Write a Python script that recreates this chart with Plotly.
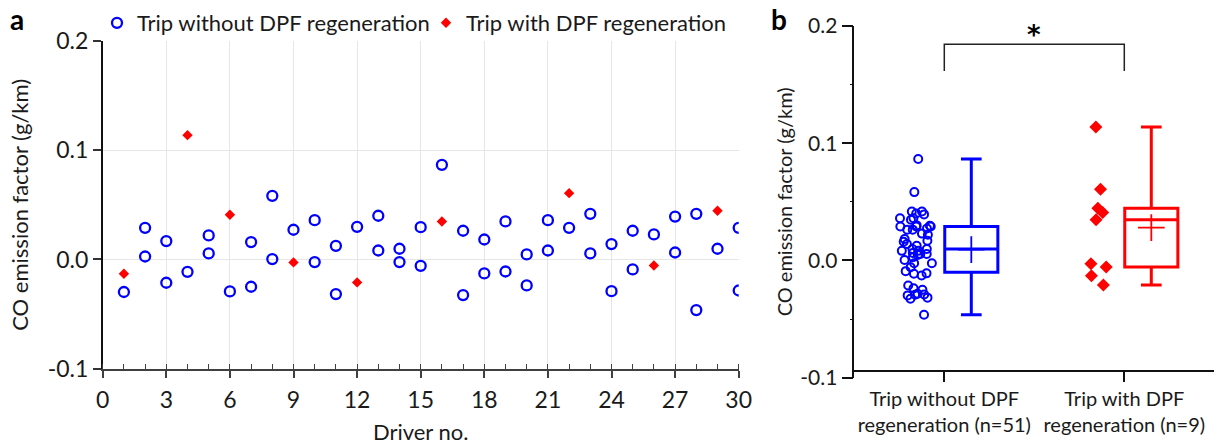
import numpy as np
import plotly.graph_objects as go

# ---- data: CO emission factor (g/km) per trip ----
drivers_without = [1, 2, 2, 3, 3, 4, 5, 5, 6, 7, 7, 8, 8, 9, 10, 10, 11, 11, 12,
                   13, 13, 14, 14, 15, 15, 16, 17, 17, 18, 18, 19, 19, 20, 20,
                   21, 21, 22, 23, 23, 24, 24, 25, 25, 26, 27, 27, 28, 28, 29, 30, 30]
co_without = [-0.0298, 0.0290, 0.0027, 0.0168, -0.0213, -0.0113, 0.0220, 0.0055,
              -0.0293, 0.0159, -0.0250, 0.0583, 0.0004, 0.0272, 0.0360, -0.0024,
              0.0125, -0.0317, 0.0299, 0.0400, 0.0082, 0.0098, -0.0024, 0.0296,
              -0.0058, 0.0866, 0.0263, -0.0326, 0.0183, -0.0128, 0.0348, -0.0110,
              0.0046, -0.0238, 0.0360, 0.0082, 0.0290, 0.0418, 0.0055, 0.0141,
              -0.0290, 0.0263, -0.0091, 0.0229, 0.0393, 0.0064, 0.0418, -0.0463,
              0.0098, 0.0290, -0.0284]

drivers_with = [1, 4, 6, 9, 12, 16, 22, 26, 29]
co_with = [-0.0131, 0.1138, 0.0409, -0.0027, -0.0210, 0.0348, 0.0607, -0.0055, 0.0446]

series_names = ["Trip without DPF regeneration", "Trip with DPF regeneration"]
group_labels = [f"Trip without DPF<br>regeneration (n={len(co_without)})",
                f"Trip with DPF<br>regeneration (n={len(co_with)})"]
y_tickvals = [-0.1, 0.0, 0.1, 0.2]
y_ticktext = ["-0.1", "0.0", "0.1", "0.2"]

BLUE = "#0000ff"
RED = "#ff0000"
FONT = "Lato"
W, H = 1224, 445

fig = go.Figure()

# ---- panel a: scatter by driver ----
fig.add_trace(go.Scatter(
    x=drivers_without, y=co_without, mode="markers", name=series_names[0],
    marker=dict(symbol="circle-open", size=10, color=BLUE, line=dict(width=2.3, color=BLUE)),
    xaxis="x", yaxis="y"))
fig.add_trace(go.Scatter(
    x=drivers_with, y=co_with, mode="markers", name=series_names[1],
    marker=dict(symbol="diamond", size=8, color=RED, line=dict(width=0)),
    xaxis="x", yaxis="y"))

# ---- panel b: box plots with sample points to the left ----
box_offset = 0.15
box_width = 0.295
fig.add_trace(go.Box(
    y=co_without, x0=0 + box_offset, width=box_width, boxpoints="all",
    pointpos=-2, jitter=0.8, quartilemethod="inclusive", whiskerwidth=0.39,
    fillcolor="rgba(0,0,0,0)", line=dict(color=BLUE, width=3),
    marker=dict(symbol="circle-open", size=8, color=BLUE, line=dict(width=2, color=BLUE)),
    showlegend=False, xaxis="x2", yaxis="y2"))
fig.add_trace(go.Box(
    y=co_with, x0=1 + box_offset, width=box_width, boxpoints="all",
    pointpos=-2, jitter=0.4, quartilemethod="inclusive", whiskerwidth=0.39,
    fillcolor="rgba(0,0,0,0)", line=dict(color=RED, width=3),
    marker=dict(symbol="diamond", size=10, color=RED, line=dict(width=0)),
    showlegend=False, xaxis="x2", yaxis="y2"))

# mean markers
fig.add_trace(go.Scatter(
    x=[0 + box_offset, 1 + box_offset], y=[np.mean(co_without), np.mean(co_with)],
    mode="markers", showlegend=False,
    marker=dict(symbol="cross-thin", size=19, color=[BLUE, RED],
                line=dict(width=1.8, color=[BLUE, RED])),
    xaxis="x2", yaxis="y2"))

# significance bracket
fig.add_shape(type="path", xref="x2", yref="y2",
              path="M 0,0.1617 L 0,0.1845 L 1,0.1845 L 1,0.1617",
              line=dict(color="#222", width=1.5))

ax_font = dict(family=FONT, size=22, color="#1a1a1a")
ax_tick_font = dict(family=FONT, size=23, color="#1a1a1a")
bx_font = dict(family=FONT, size=20, color="#1a1a1a")
bx_tick_font = dict(family=FONT, size=21, color="#1a1a1a")

fig.update_layout(
    width=W, height=H, margin=dict(l=0, r=0, t=0, b=0, autoexpand=False),
    plot_bgcolor="white", paper_bgcolor="white",
    font=dict(family=FONT, size=22, color="#1a1a1a"),
    xaxis=dict(domain=[102.7 / W, 738.7 / W], range=[0, 30], tick0=0, dtick=3,
               ticks="outside", ticklen=7, tickwidth=1.5, tickcolor="#404040",
               showline=True, linecolor="#404040", linewidth=2,
               showgrid=True, gridcolor="#e6e6e6", gridwidth=1, zeroline=False,
               minor=dict(dtick=1, ticks="inside", ticklen=5, tickwidth=1,
                          tickcolor="#404040", showgrid=False),
               tickfont=ax_tick_font, ticklabelstandoff=3,
               title=dict(text="Driver no.", font=ax_font, standoff=13),
               anchor="y"),
    yaxis=dict(domain=[(H - 368.7) / H, (H - 41) / H], range=[-0.1, 0.2],
               tickvals=y_tickvals, ticktext=y_ticktext,
               ticks="outside", ticklen=8, tickwidth=1.5, tickcolor="#333",
               showline=True, linecolor="#111", linewidth=1.5,
               showgrid=True, gridcolor="#e6e6e6", gridwidth=1, zeroline=False,
               tickfont=ax_tick_font,
               title=dict(text="CO emission factor (g/km)", font=ax_font, standoff=13),
               anchor="x"),
    xaxis2=dict(domain=[854.3 / W, 1214.3 / W], range=[-0.5, 1.5], type="linear",
                tickvals=[0, 1], ticktext=group_labels,
                ticks="outside", ticklen=11, tickwidth=1.5, tickcolor="#111",
                showline=True, linecolor="#111", linewidth=1.5,
                showgrid=False, zeroline=False, tickfont=bx_font,
                anchor="free", position=(H - 370.5) / H),
    yaxis2=dict(domain=[(H - 377.7) / H, (H - 26) / H], range=[-0.1, 0.2],
                tickvals=y_tickvals, ticktext=y_ticktext,
                ticks="outside", ticklen=11, tickwidth=1.5, tickcolor="#111",
                minor=dict(dtick=0.05, ticks="outside", ticklen=3, tickwidth=1.2,
                           tickcolor="#111"),
                showline=True, linecolor="#111", linewidth=1.5,
                showgrid=False, zeroline=False, tickfont=bx_tick_font,
                title=dict(text="CO emission factor (g/km)", font=bx_font, standoff=2),
                anchor="x2"),
    legend=dict(orientation="h", x=97 / W, xanchor="left", y=(H - 23) / H,
                yanchor="middle", font=ax_font, bgcolor="rgba(0,0,0,0)",
                entrywidth=284, entrywidthmode="pixels"),
    annotations=[
        dict(text="<b>a</b>", x=17 / W, y=(H - 19) / H, xref="paper", yref="paper",
             xanchor="center", yanchor="middle",
             showarrow=False, font=dict(family=FONT, size=28, color="#000")),
        dict(text="<b>b</b>", x=779 / W, y=(H - 19) / H, xref="paper", yref="paper",
             xanchor="center", yanchor="middle",
             showarrow=False, font=dict(family=FONT, size=28, color="#000")),
        dict(text="<b>*</b>", x=0.5, y=0.1924, xref="x2", yref="y2",
             xanchor="center", yanchor="middle",
             showarrow=False, font=dict(family="DejaVu Sans", size=26, color="#000")),
    ],
)

fig.write_html("out.html")
